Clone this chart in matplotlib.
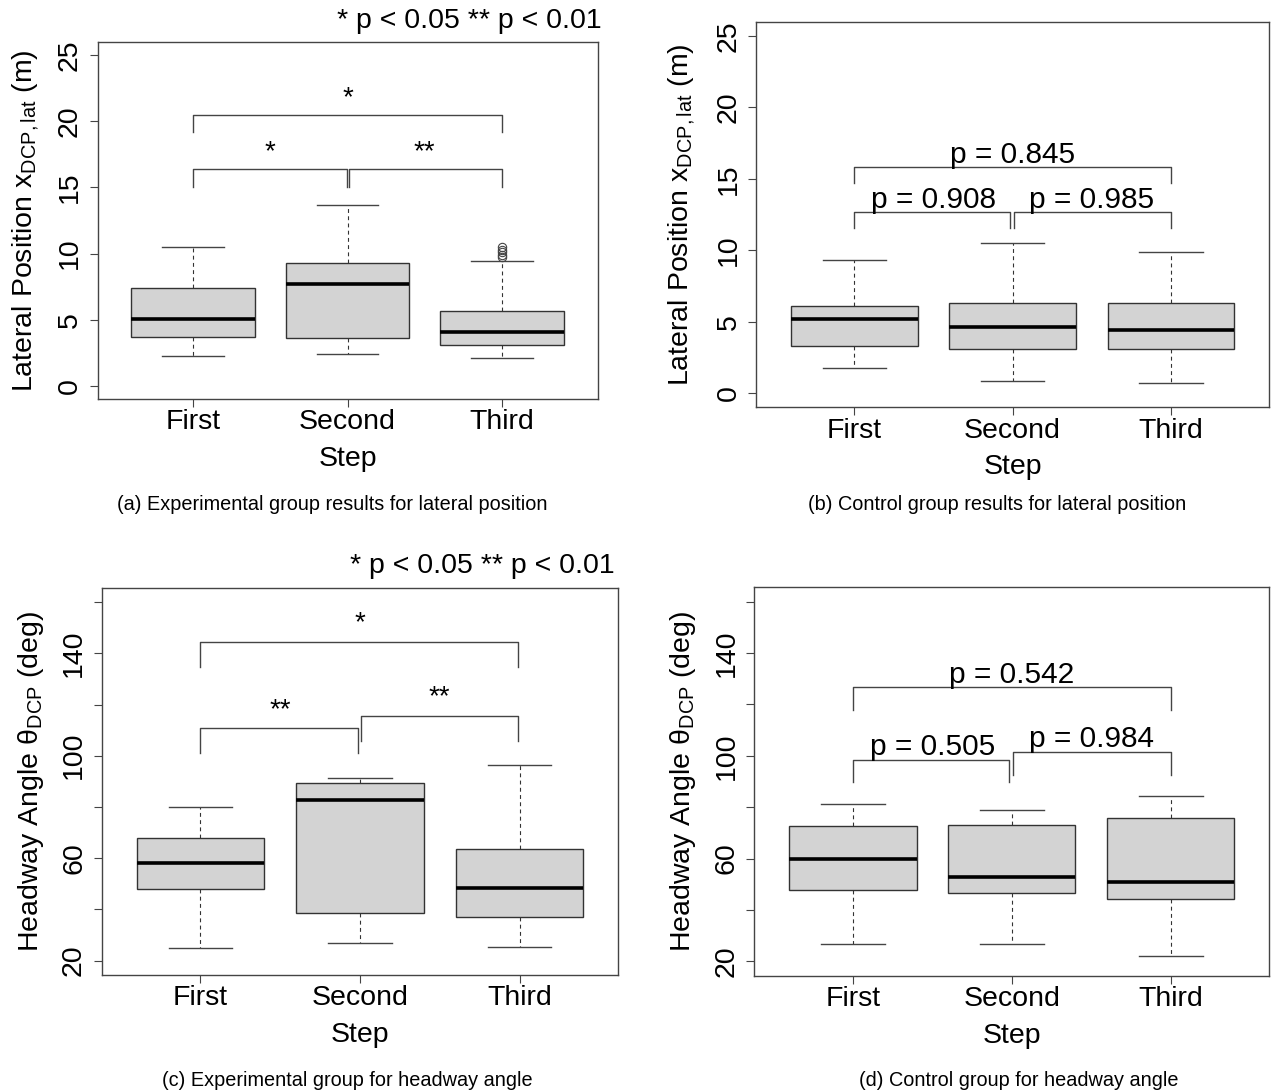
import matplotlib.pyplot as plt

plt.rcParams['font.family'] = ['Liberation Sans', 'DejaVu Sans']
plt.rcParams['mathtext.fontset'] = 'custom'
plt.rcParams['mathtext.rm'] = 'Liberation Sans'
plt.rcParams['mathtext.it'] = 'Liberation Sans:italic'

steps = ['First', 'Second', 'Third']

# (a) experimental group, lateral position (m)
exp_lat_lo = [2.27, 2.37, 2.07]
exp_lat_q1 = [3.72, 3.60, 3.10]
exp_lat_med = [5.04, 7.73, 4.03]
exp_lat_q3 = [7.40, 9.27, 5.69]
exp_lat_hi = [10.52, 13.67, 9.42]
exp_lat_out = [[], [], [10.5, 10.3, 10.1, 9.9, 9.75]]

# (b) control group, lateral position (m)
ctl_lat_lo = [1.72, 0.82, 0.68]
ctl_lat_q1 = [3.31, 3.05, 3.05]
ctl_lat_med = [5.17, 4.64, 4.38]
ctl_lat_q3 = [6.08, 6.31, 6.29]
ctl_lat_hi = [9.32, 10.53, 9.88]
ctl_lat_out = [[], [], []]

# (c) experimental group, headway angle (deg)
exp_ang_lo = [24.8, 26.9, 25.4]
exp_ang_q1 = [47.8, 38.7, 37.0]
exp_ang_med = [58.0, 82.8, 48.4]
exp_ang_q3 = [67.7, 89.3, 63.7]
exp_ang_hi = [79.8, 91.5, 96.3]
exp_ang_out = [[], [], []]

# (d) control group, headway angle (deg)
ctl_ang_lo = [26.9, 26.6, 22.1]
ctl_ang_q1 = [47.7, 46.4, 44.4]
ctl_ang_med = [59.9, 52.9, 50.8]
ctl_ang_q3 = [72.7, 72.9, 75.7]
ctl_ang_hi = [81.4, 79.0, 84.4]
ctl_ang_out = [[], [], []]

# significance brackets: x1, x2, y, leg bottom, label, label x, label baseline
exp_lat_sig = [(1, 3, 20.5, 19.2, '*', 2, 21.25),
               (1, 1.995, 16.4, 15.05, '*', 1.5, 17.1),
               (2.01, 3, 16.4, 15.05, '**', 2.5, 17.1)]
ctl_lat_sig = [(1, 3, 15.8, 14.72, 'p = 0.845', 2, 16.1),
               (1, 1.984, 12.67, 11.58, 'p = 0.908', 1.5, 12.95),
               (2.01, 3, 12.67, 11.58, 'p = 0.985', 2.5, 12.95)]
exp_ang_sig = [(1, 2.99, 144.5, 134.8, '*', 2, 149.0),
               (1, 1.987, 110.7, 101.1, '**', 1.5, 115.2),
               (2.007, 2.99, 115.7, 105.9, '**', 2.5, 120.0)]
ctl_ang_sig = [(1, 3, 126.6, 117.9, 'p = 0.542', 2, 128.3),
               (1, 1.984, 98.3, 89.8, 'p = 0.505', 1.5, 100.4),
               (2.01, 3, 101.3, 92.6, 'p = 0.984', 2.5, 103.4)]

lat_label = r'Lateral Position $\mathrm{x}_{\mathrm{DCP,lat}}$ (m)'
ang_label = r'Headway Angle θ$_{\mathrm{DCP}}$ (deg)'
sig_note = '* p < 0.05 ** p < 0.01'

W, H = 1271, 1092
fig = plt.figure(figsize=(W / 100, H / 100), dpi=100)


def px_axes(left, top, right, bottom):
    return fig.add_axes([left / W, 1 - bottom / H, (right - left) / W, (bottom - top) / H])


def draw_panel(ax, lo, q1, med, q3, hi, out, sig, ylim, yticks, ylabels, ylab, ylab_x, sig_size):
    stats = []
    for i in range(3):
        stats.append(dict(whislo=lo[i], q1=q1[i], med=med[i], q3=q3[i], whishi=hi[i], fliers=out[i]))
    ax.bxp(stats, positions=[1, 2, 3], widths=0.8, patch_artist=True, manage_ticks=False,
           capwidths=0.4,
           boxprops=dict(facecolor='#d3d3d3', edgecolor='#333333', linewidth=1.0),
           medianprops=dict(color='black', linewidth=2.6, solid_capstyle='butt'),
           whiskerprops=dict(color='#333333', linestyle=(0, (3.5, 3)), linewidth=0.8),
           capprops=dict(color='#444444', linewidth=1.0),
           flierprops=dict(marker='o', markerfacecolor='none', markeredgecolor='#444444',
                           markersize=6, markeredgewidth=0.8))
    for x1, x2, y, leg, lab, lx, ly in sig:
        ax.plot([x1, x1, x2, x2], [leg, y, y, leg], color='#444444', lw=1.0)
        ax.text(lx, ly, lab, ha='center', va='baseline', fontsize=sig_size)
    ax.set_xlim(0.38, 3.62)
    ax.set_ylim(*ylim)
    ax.set_xticks([1, 2, 3], steps)
    ax.set_yticks(yticks, ylabels, rotation=90, va='center')
    ax.tick_params(length=6, width=0.8, color='#444444', labelsize=20.5, pad=1.5)
    ax.tick_params(axis='y', pad=4.5)
    for s in ax.spines.values():
        s.set_color('#444444')
        s.set_linewidth(1.0)
    ax.set_xlabel('Step', fontsize=20.5, labelpad=7.5)
    ax.set_ylabel(ylab, fontsize=20.5, va='baseline')
    ax.yaxis.set_label_coords(ylab_x, 0.5)


lat_ticks = [0, 5, 10, 15, 20, 25]
lat_labels = ['0', '5', '10', '15', '20', '25']
ang_ticks = [20, 40, 60, 80, 100, 120, 140, 160]
ang_labels = ['20', '', '60', '', '100', '', '140', '']

ax_a = px_axes(97.5, 42, 597.5, 399)
draw_panel(ax_a, exp_lat_lo, exp_lat_q1, exp_lat_med, exp_lat_q3, exp_lat_hi, exp_lat_out,
           exp_lat_sig, (-1, 26), lat_ticks, lat_labels, lat_label, -0.131, 20)

ax_b = px_axes(756, 21.7, 1269, 407.3)
draw_panel(ax_b, ctl_lat_lo, ctl_lat_q1, ctl_lat_med, ctl_lat_q3, ctl_lat_hi, ctl_lat_out,
           ctl_lat_sig, (-1, 26), lat_ticks, lat_labels, lat_label, -0.132, 21.5)

ax_c = px_axes(101.6, 587.7, 618.4, 975)
draw_panel(ax_c, exp_ang_lo, exp_ang_q1, exp_ang_med, exp_ang_q3, exp_ang_hi, exp_ang_out,
           exp_ang_sig, (14.4, 165.6), ang_ticks, ang_labels, ang_label, -0.123, 20)

ax_d = px_axes(754.4, 587.3, 1269.4, 975.7)
draw_panel(ax_d, ctl_ang_lo, ctl_ang_q1, ctl_ang_med, ctl_ang_q3, ctl_ang_hi, ctl_ang_out,
           ctl_ang_sig, (14.4, 165.6), ang_ticks, ang_labels, ang_label, -0.125, 21.5)

# significance note above the experimental panels
fig.text(602 / W, 1 - 28 / H, sig_note, ha='right', va='baseline', fontsize=20.5)
fig.text(614.7 / W, 1 - 573.3 / H, sig_note, ha='right', va='baseline', fontsize=20.5)

# sub-figure captions
fig.text(332 / W, 1 - 504 / H, '(a) Experimental group results for lateral position',
         ha='center', va='center', fontsize=14.3)
fig.text(997 / W, 1 - 504 / H, '(b) Control group results for lateral position',
         ha='center', va='center', fontsize=14.3)
fig.text(347 / W, 1 - 1080 / H, '(c) Experimental group for headway angle',
         ha='center', va='center', fontsize=14.3)
fig.text(1019 / W, 1 - 1080 / H, '(d) Control group for headway angle',
         ha='center', va='center', fontsize=14.3)

plt.savefig('out.png', dpi=100)
plt.close()
